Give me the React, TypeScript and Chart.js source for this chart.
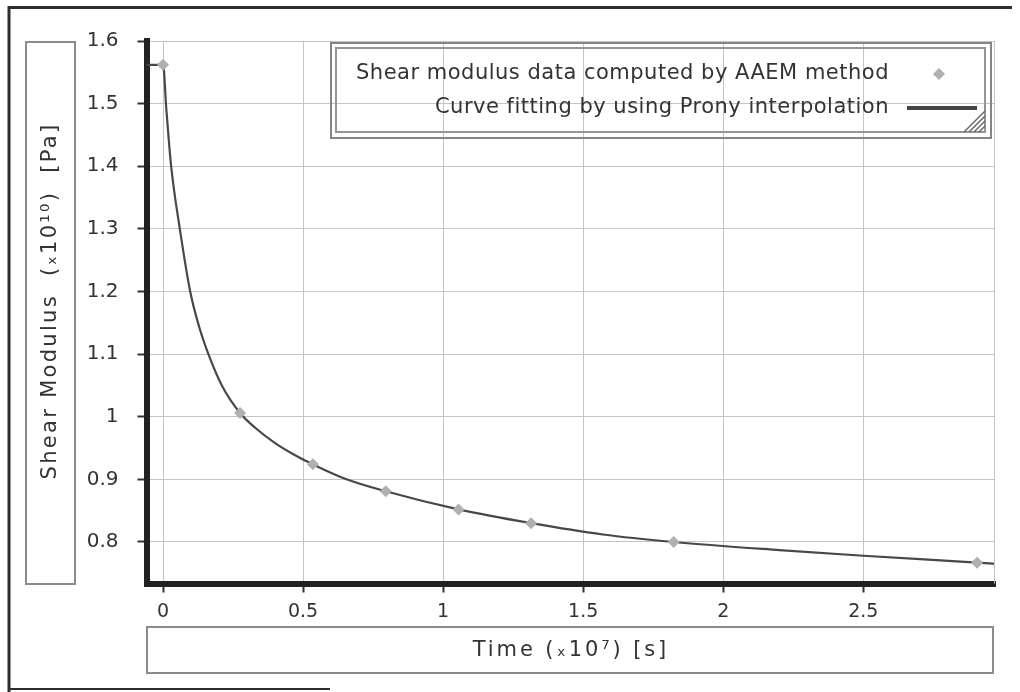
import React, { useEffect, useRef } from "react";
import { Chart, registerables } from "chart.js";

Chart.register(...registerables);

// Data
const dataTime = [0, 0.275, 0.535, 0.795, 1.055, 1.314, 1.823, 2.906];
const dataModulus = [1.562, 1.006, 0.924, 0.881, 0.852, 0.83, 0.8, 0.767];

const fitTime = [-0.06, 0, 0.012, 0.029, 0.06, 0.097, 0.13, 0.162, 0.21, 0.275, 0.33, 0.4, 0.47, 0.535, 0.65, 0.795, 1.055, 1.314, 1.57, 1.823, 2.2, 2.5, 2.906, 2.975];
const fitModulus = [1.562, 1.562, 1.49, 1.4, 1.3, 1.2, 1.142, 1.1, 1.05, 1.006, 0.982, 0.958, 0.939, 0.924, 0.901, 0.881, 0.852, 0.83, 0.812, 0.8, 0.787, 0.778, 0.767, 0.765];

const xTicks = [0, 0.5, 1, 1.5, 2, 2.5];
const xTickLabels = ["0", "0.5", "1", "1.5", "2", "2.5"];
const yTicks = [0.8, 0.9, 1, 1.1, 1.2, 1.3, 1.4, 1.5, 1.6];
const yTickLabels = ["0.8", "0.9", "1", "1.1", "1.2", "1.3", "1.4", "1.5", "1.6"];

const legendLabels = [
  "Shear modulus data computed by AAEM method",
  "Curve fitting by using Prony interpolation",
];
const xTitle = "Time (\u209310\u2077) [s]";
const yTitle = "Shear Modulus  (\u209310\u00B9\u2070)  [Pa]";

const FONT = "'DejaVu Sans', Verdana, sans-serif";
const TEXT = "#333333";
const MARKER = "#b0b0b0";
const CURVE = "#484848";

const decorPlugin = {
  id: "decor",
  afterDraw(chart: any) {
    const ctx: CanvasRenderingContext2D = chart.ctx;
    const ca = chart.chartArea;
    ctx.save();

    // right border of plot
    ctx.strokeStyle = "#c4c4c4";
    ctx.lineWidth = 1;
    ctx.beginPath();
    ctx.moveTo(ca.right - 0.5, ca.top);
    ctx.lineTo(ca.right - 0.5, ca.bottom);
    ctx.stroke();

    // outer scanned frame
    ctx.strokeStyle = "#2e2e2e";
    ctx.lineWidth = 3;
    ctx.beginPath();
    ctx.moveTo(9, 692);
    ctx.lineTo(9, 7.5);
    ctx.lineTo(1012, 7.5);
    ctx.stroke();
    ctx.lineWidth = 2;
    ctx.beginPath();
    ctx.moveTo(9, 689);
    ctx.lineTo(330, 689);
    ctx.stroke();

    // title boxes
    ctx.strokeStyle = "#8c8c8c";
    ctx.lineWidth = 2;
    ctx.strokeRect(26, 42, 49, 542);
    ctx.strokeRect(147, 627, 846, 46);

    // axis titles
    ctx.fillStyle = TEXT;
    ctx.font = `21px ${FONT}`;
    (ctx as any).letterSpacing = "2.9px";
    ctx.textAlign = "center";
    ctx.textBaseline = "middle";
    ctx.fillText(xTitle, 571, 651);
    (ctx as any).letterSpacing = "2.3px";
    ctx.save();
    ctx.translate(51, 301);
    ctx.rotate(-Math.PI / 2);
    ctx.fillText(yTitle, 0, 0);
    ctx.restore();
    (ctx as any).letterSpacing = "0px";

    // legend box (transparent, double border)
    ctx.strokeStyle = "#858585";
    ctx.lineWidth = 2;
    ctx.strokeRect(331, 43, 660, 95);
    ctx.strokeStyle = "#959595";
    ctx.strokeRect(336, 48, 649, 84);
    // resize hatch
    ctx.strokeStyle = "#666";
    ctx.lineWidth = 1.5;
    for (let i = 0; i < 4; i++) {
      const o = 6 + i * 5;
      ctx.beginPath();
      ctx.moveTo(985 - o, 132);
      ctx.lineTo(985, 132 - o);
      ctx.stroke();
    }

    // legend entries
    ctx.font = `21px ${FONT}`;
    (ctx as any).letterSpacing = "0.5px";
    ctx.textAlign = "right";
    ctx.textBaseline = "middle";
    ctx.fillStyle = TEXT;
    ctx.fillText(legendLabels[0], 889, 74);
    ctx.fillText(legendLabels[1], 889, 108);
    (ctx as any).letterSpacing = "0px";
    // marker sample
    ctx.fillStyle = MARKER;
    ctx.beginPath();
    ctx.moveTo(939, 68);
    ctx.lineTo(945, 74);
    ctx.lineTo(939, 80);
    ctx.lineTo(933, 74);
    ctx.closePath();
    ctx.fill();
    // line sample
    ctx.strokeStyle = "#444";
    ctx.lineWidth = 4;
    ctx.beginPath();
    ctx.moveTo(907, 108);
    ctx.lineTo(977, 108);
    ctx.stroke();

    ctx.restore();
  },
};

export default function App() {
  const canvasRef = useRef<HTMLCanvasElement | null>(null);

  useEffect(() => {
    if (!canvasRef.current) return;
    const chart = new Chart(canvasRef.current, {
      type: "scatter",
      data: {
        datasets: [
          {
            label: legendLabels[0],
            data: dataTime.map((t, i) => ({ x: t, y: dataModulus[i] })),
            showLine: false,
            pointStyle: "rectRot",
            pointRadius: 6,
            pointBackgroundColor: MARKER,
            pointBorderColor: MARKER,
            pointBorderWidth: 0,
            order: 0,
          },
          {
            label: legendLabels[1],
            data: fitTime.map((t, i) => ({ x: t, y: fitModulus[i] })),
            showLine: true,
            borderColor: CURVE,
            borderWidth: 2.2,
            pointRadius: 0,
            cubicInterpolationMode: "monotone",
            order: 1,
          } as any,
        ],
      },
      options: {
        animation: false,
        responsive: true,
        maintainAspectRatio: false,
        layout: { padding: { left: 0, top: 41, right: 25, bottom: 0 } },
        plugins: {
          legend: { display: false },
          tooltip: { enabled: false },
          title: { display: false },
        },
        scales: {
          x: {
            type: "linear",
            min: -0.059,
            max: 2.97,
            afterBuildTicks: (scale: any) => {
              scale.ticks = xTicks.map((v) => ({ value: v }));
            },
            afterFit: (scale: any) => {
              scale.height = 108.5;
            },
            ticks: {
              callback: (v: any) => xTickLabels[xTicks.indexOf(Number(v))] ?? "",
              color: TEXT,
              font: { family: FONT, size: 19 },
              padding: 8,
              maxRotation: 0,
              autoSkip: false,
            },
            grid: {
              color: "#c4c4c4",
              lineWidth: 1,
              tickColor: "#333",
              tickLength: 9,
              tickWidth: 2,
            },
            border: { display: true, color: "#222", width: 6 },
          },
          y: {
            type: "linear",
            min: 0.7337,
            max: 1.6,
            afterBuildTicks: (scale: any) => {
              scale.ticks = yTicks.map((v) => ({ value: v }));
            },
            afterFit: (scale: any) => {
              scale.width = 146.5;
            },
            ticks: {
              callback: (v: any) => yTickLabels[yTicks.indexOf(Number(v))] ?? "",
              color: TEXT,
              font: { family: FONT, size: 20 },
              padding: 19,
              autoSkip: false,
            },
            grid: {
              color: "#c4c4c4",
              lineWidth: 1,
              tickColor: "#333",
              tickLength: 9,
              tickWidth: 2,
            },
            border: { display: true, color: "#222", width: 6 },
          },
        },
      },
      plugins: [decorPlugin],
    } as any);
    return () => chart.destroy();
  }, []);

  return (
    <div style={{ position: "absolute", left: 0, top: 0, width: 1020, height: 692, background: "#fff" }}>
      <canvas ref={canvasRef} />
    </div>
  );
}
